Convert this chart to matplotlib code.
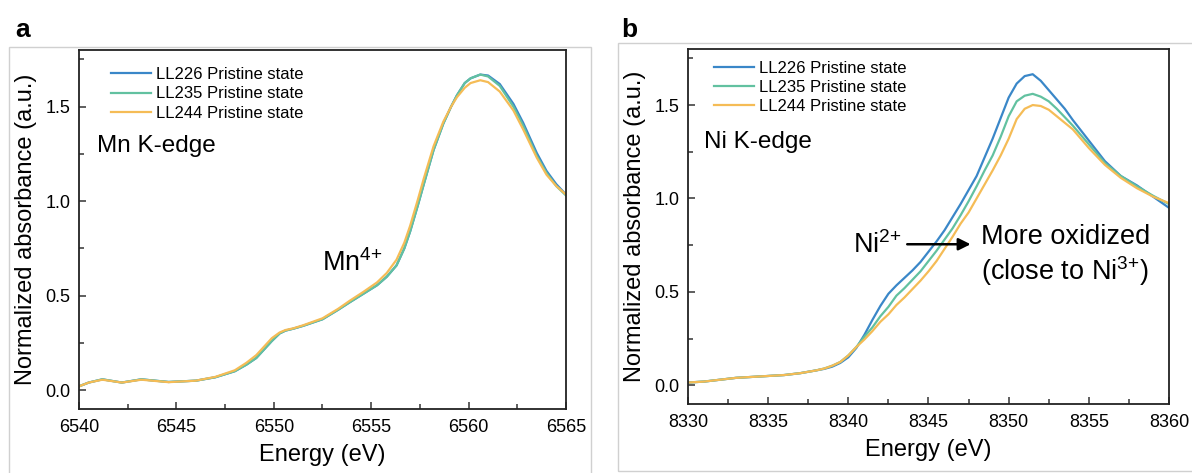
import matplotlib
matplotlib.use('Agg')
import matplotlib.pyplot as plt
from matplotlib.ticker import MultipleLocator
from matplotlib.patches import Rectangle

plt.rcParams['font.family'] = ['Liberation Sans', 'DejaVu Sans']
plt.rcParams['mathtext.fontset'] = 'custom'
plt.rcParams['mathtext.rm'] = 'Liberation Sans'
plt.rcParams['mathtext.default'] = 'regular'

labels = ['LL226 Pristine state', 'LL235 Pristine state', 'LL244 Pristine state']
colors = ['#3a87c8', '#62c1a0', '#f5bc56']

# Mn K-edge
mn_e = [6540.0, 6540.5, 6541.2, 6542.2, 6543.2, 6544.6, 6546.0, 6547.0, 6548.0, 6548.6,
        6549.1, 6549.5, 6549.9, 6550.3, 6550.6, 6551.0, 6551.5, 6552.5, 6553.3, 6553.9,
        6554.6, 6555.3, 6555.8, 6556.3, 6556.7, 6557.0, 6557.4, 6557.7, 6558.2, 6558.7,
        6559.1, 6559.4, 6559.8, 6560.1, 6560.6, 6561.0, 6561.6, 6562.3, 6562.8, 6563.5,
        6564.0, 6564.5, 6565.0]
mn_226 = [0.02, 0.04, 0.057, 0.04, 0.057, 0.043, 0.05, 0.068, 0.10, 0.135,
          0.17, 0.215, 0.26, 0.30, 0.315, 0.325, 0.34, 0.375, 0.425, 0.465,
          0.51, 0.555, 0.60, 0.66, 0.75, 0.84, 0.98, 1.09, 1.27, 1.41,
          1.50, 1.56, 1.625, 1.65, 1.67, 1.665, 1.62, 1.515, 1.415, 1.255,
          1.16, 1.09, 1.035]
mn_235 = [0.02, 0.04, 0.057, 0.04, 0.057, 0.043, 0.05, 0.068, 0.10, 0.135,
          0.17, 0.215, 0.26, 0.30, 0.315, 0.325, 0.34, 0.375, 0.425, 0.465,
          0.51, 0.555, 0.60, 0.66, 0.75, 0.84, 0.98, 1.09, 1.27, 1.41,
          1.50, 1.56, 1.625, 1.65, 1.67, 1.66, 1.61, 1.50, 1.40, 1.24,
          1.15, 1.08, 1.03]
mn_244 = [0.02, 0.04, 0.055, 0.04, 0.055, 0.042, 0.05, 0.07, 0.105, 0.145,
          0.185, 0.23, 0.275, 0.305, 0.318, 0.327, 0.343, 0.38, 0.43, 0.473,
          0.52, 0.57, 0.62, 0.69, 0.78, 0.87, 1.01, 1.12, 1.29, 1.42,
          1.50, 1.55, 1.60, 1.625, 1.64, 1.63, 1.58, 1.48, 1.38, 1.23,
          1.14, 1.08, 1.035]

# Ni K-edge
ni_e = [8330, 8331, 8332, 8333, 8334, 8335, 8336, 8337, 8338, 8338.5,
        8339, 8339.5, 8340, 8340.5, 8341, 8341.5, 8342, 8342.5, 8343, 8343.5,
        8344, 8344.5, 8345, 8345.5, 8346, 8346.5, 8347, 8347.5, 8348, 8348.5,
        8349, 8349.5, 8350, 8350.5, 8351, 8351.5, 8352, 8352.5, 8353, 8353.5,
        8354, 8355, 8356, 8357, 8358, 8359, 8360]
ni_226 = [0.015, 0.02, 0.03, 0.04, 0.045, 0.05, 0.055, 0.065, 0.08, 0.088,
          0.10, 0.12, 0.15, 0.20, 0.27, 0.35, 0.425, 0.49, 0.535, 0.575,
          0.615, 0.66, 0.715, 0.77, 0.83, 0.90, 0.97, 1.045, 1.12, 1.22,
          1.32, 1.43, 1.54, 1.615, 1.655, 1.665, 1.63, 1.58, 1.53, 1.48,
          1.42, 1.31, 1.20, 1.12, 1.07, 1.01, 0.95]
ni_235 = [0.015, 0.02, 0.03, 0.04, 0.045, 0.05, 0.055, 0.065, 0.08, 0.09,
          0.105, 0.125, 0.16, 0.205, 0.26, 0.31, 0.37, 0.42, 0.48, 0.52,
          0.565, 0.61, 0.665, 0.72, 0.78, 0.84, 0.91, 0.985, 1.065, 1.15,
          1.23, 1.33, 1.44, 1.52, 1.55, 1.56, 1.545, 1.52, 1.48, 1.435,
          1.39, 1.29, 1.19, 1.12, 1.065, 1.015, 0.97]
ni_244 = [0.015, 0.02, 0.03, 0.04, 0.045, 0.05, 0.055, 0.065, 0.08, 0.09,
          0.105, 0.125, 0.16, 0.205, 0.245, 0.29, 0.34, 0.38, 0.43, 0.47,
          0.515, 0.56, 0.61, 0.665, 0.73, 0.795, 0.865, 0.925, 1.0, 1.075,
          1.15, 1.23, 1.32, 1.425, 1.48, 1.50, 1.495, 1.475, 1.44, 1.405,
          1.37, 1.27, 1.18, 1.11, 1.055, 1.01, 0.975]

W, H = 1192, 473
fig = plt.figure(figsize=(W / 100, H / 100), dpi=100)

# light grey panel frames
fig.patches.append(Rectangle((9 / W, -0.01), (591 - 9) / W, 1 - 47 / H + 0.01,
                             transform=fig.transFigure, fill=False, ec='#d0d0d0', lw=1))
fig.patches.append(Rectangle((618 / W, 1 - 471 / H), (W + 5 - 618) / W, (471 - 43) / H,
                             transform=fig.transFigure, fill=False, ec='#d0d0d0', lw=1))

ax1 = fig.add_axes([79 / W, 1 - 409 / H, (566 - 79) / W, (409 - 50) / H])
ax2 = fig.add_axes([688 / W, 1 - 404 / H, (1169 - 688) / W, (404 - 49) / H])


def style(ax, xmin, xmax):
    ax.set_xlim(xmin, xmax)
    ax.set_ylim(-0.1, 1.8)
    ax.xaxis.set_major_locator(MultipleLocator(5))
    ax.xaxis.set_minor_locator(MultipleLocator(2.5))
    ax.yaxis.set_major_locator(MultipleLocator(0.5))
    ax.yaxis.set_minor_locator(MultipleLocator(0.25))
    ax.tick_params(which='both', direction='in', labelsize=13, width=1.1, color='#333333')
    ax.tick_params(which='major', length=5)
    ax.tick_params(which='minor', length=3.5)
    ax.tick_params(axis='x', pad=7)
    ax.tick_params(axis='y', pad=6)
    for s in ax.spines.values():
        s.set_linewidth(1.3)
        s.set_color('#222222')
    ax.set_xlabel('Energy (eV)', fontsize=17, labelpad=6)
    ax.set_ylabel('Normalized absorbance (a.u.)', fontsize=17, labelpad=6)


for ys, c, lab in zip([mn_226, mn_235, mn_244], colors, labels):
    ax1.plot(mn_e, ys, color=c, lw=1.6, label=lab)
for ys, c, lab in zip([ni_226, ni_235, ni_244], colors, labels):
    ax2.plot(ni_e, ys, color=c, lw=1.6, label=lab)

style(ax1, 6540, 6565)
style(ax2, 8330, 8360)

ax1.legend(loc='upper left', bbox_to_anchor=(0.049, 0.975), frameon=False, fontsize=12,
           borderpad=0, handlelength=2.4, handletextpad=0.3, labelspacing=0.25)
ax2.legend(loc='upper left', bbox_to_anchor=(0.037, 0.99), frameon=False, fontsize=12,
           borderpad=0, handlelength=2.4, handletextpad=0.3, labelspacing=0.25)

ax1.text(6540.9, 1.29, 'Mn K-edge', fontsize=17.5, va='center')
ax1.text(6552.5, 0.67, 'Mn$^{4{+}}$', fontsize=19.5, va='center')

ax2.text(8331.0, 1.30, 'Ni K-edge', fontsize=17.5, va='center')
ax2.text(8340.3, 0.75, 'Ni$^{2{+}}$', fontsize=19.5, va='center')
ax2.annotate('', xy=(8347.8, 0.755), xytext=(8343.5, 0.755),
             arrowprops=dict(arrowstyle='-|>', color='black', lw=1.8, mutation_scale=18))
ax2.text(8348.3, 0.795, 'More oxidized', fontsize=19.5, va='center')
ax2.text(8348.3, 0.61, '(close to Ni$^{3{+}}$)', fontsize=19.5, va='center')

fig.text(15 / W, 1 - 37 / H, 'a', fontsize=19, fontweight='bold')
fig.text(621 / W, 1 - 37 / H, 'b', fontsize=19, fontweight='bold')

fig.savefig('out.png', dpi=100)
